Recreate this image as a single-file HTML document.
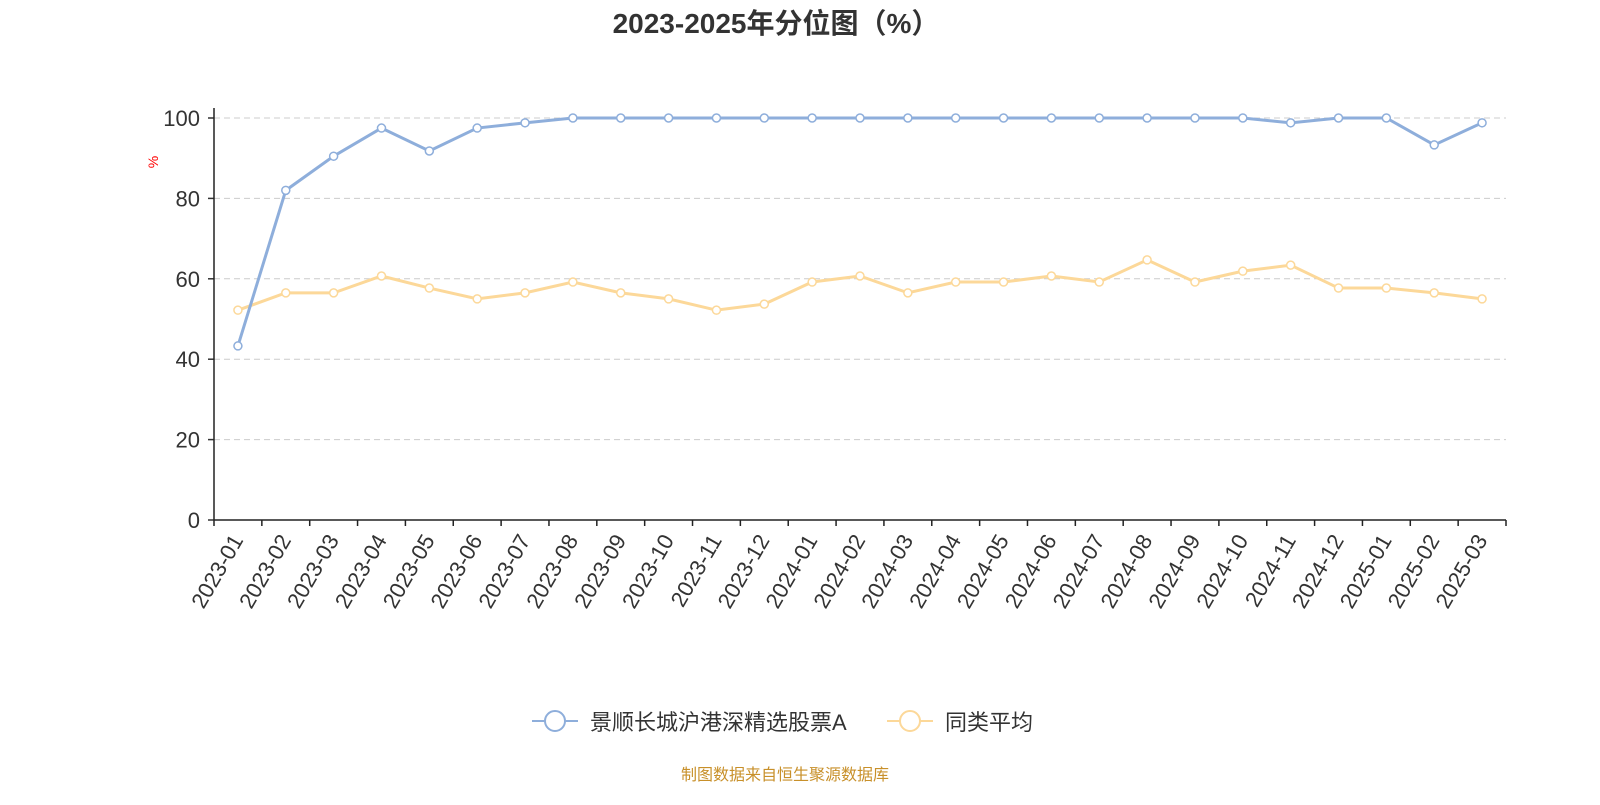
<!DOCTYPE html>
<html><head><meta charset="utf-8"><style>
body{margin:0;background:#fff;font-family:"Liberation Sans","Noto Sans CJK SC",sans-serif}
svg text{font-family:"Liberation Sans","Noto Sans CJK SC",sans-serif}
</style></head><body>
<svg id="chart" width="1600" height="800">
<text x="776" y="33" text-anchor="middle" font-size="28" font-weight="bold" fill="#333">2023-2025年分位图（%）</text>
<text x="158" y="162" font-size="14" fill="red" transform="rotate(-90 158 162)" text-anchor="middle">%</text>
<g id="grid"></g><g id="axes"></g><g id="series"></g>
<g>
<g>
<line x1="532" y1="721" x2="578" y2="721" stroke="#8eaedb" stroke-width="2"/>
<circle cx="555" cy="721" r="10" fill="#fff" stroke="#8eaedb" stroke-width="2"/>
<text x="590" y="730" font-size="22" fill="#333">景顺长城沪港深精选股票A</text></g>
<g>
<line x1="887" y1="721" x2="933" y2="721" stroke="#fcd899" stroke-width="2"/>
<circle cx="910" cy="721" r="10" fill="#fff" stroke="#fcd899" stroke-width="2"/>
<text x="945" y="730" font-size="22" fill="#333">同类平均</text></g>
</g>
<text x="785" y="780" text-anchor="middle" font-size="16" fill="#c8902a">制图数据来自恒生聚源数据库</text>
</svg>
<script>
const categories=["2023-01","2023-02","2023-03","2023-04","2023-05","2023-06","2023-07","2023-08","2023-09","2023-10","2023-11","2023-12","2024-01","2024-02","2024-03","2024-04","2024-05","2024-06","2024-07","2024-08","2024-09","2024-10","2024-11","2024-12","2025-01","2025-02","2025-03"];
const fundValues=[43.3,82,90.5,97.5,91.8,97.5,98.8,100,100,100,100,100,100,100,100,100,100,100,100,100,100,100,98.8,100,100,93.3,98.8];
const avgValues=[52.2,56.5,56.5,60.7,57.7,55,56.5,59.2,56.5,55,52.2,53.7,59.2,60.7,56.5,59.2,59.2,60.7,59.2,64.7,59.2,61.9,63.4,57.7,57.7,56.5,55];
const yTicks=[0,20,40,60,80,100];
const NS="http://www.w3.org/2000/svg";
const X0=214,X1=1506,Y0=520,Y1=118;
const bw=(X1-X0)/categories.length;
const xs=i=>X0+bw*(i+0.5);
const ys=v=>Y0-(v/100)*(Y0-Y1);
function mk(tag,attrs,parent){const e=document.createElementNS(NS,tag);for(const k in attrs)e.setAttribute(k,attrs[k]);parent.appendChild(e);return e;}
const grid=document.getElementById('grid'),axes=document.getElementById('axes'),ser=document.getElementById('series');
yTicks.forEach(t=>{
 if(t>0){const g=mk('line',{x1:X0,x2:X1,y1:ys(t),y2:ys(t),stroke:'#ccc','stroke-dasharray':'6,4'},grid);
 
 }
 const tk=mk('line',{x1:X0-6,x2:X0,y1:ys(t),y2:ys(t),stroke:'#333','stroke-width':1.5},axes);
 
 
 const l=mk('text',{x:X0-14,y:ys(t)+8,'text-anchor':'end','font-size':22,fill:'#333'},axes);
 l.textContent=t;
 
 
});
const ya=mk('line',{x1:X0,x2:X0,y1:Y1-10,y2:Y0,stroke:'#222','stroke-width':1.5},axes);


const xa=mk('line',{x1:X0,x2:X1,y1:Y0,y2:Y0,stroke:'#222','stroke-width':1.5},axes);


for(let i=0;i<=categories.length;i++){
 const tk=mk('line',{x1:X0+bw*i,x2:X0+bw*i,y1:Y0,y2:Y0+6,stroke:'#222','stroke-width':1.5},axes);
 
 
}
categories.forEach((c,i)=>{
 const x=xs(i),y=Y0+12;
 const l=mk('text',{x:x+6,y:y+8,'text-anchor':'end','font-size':22,fill:'#333',transform:`rotate(-60 ${x+6} ${y+8})`},axes);
 l.textContent=c;
 
 
});
function draw(vals,color,name){
 const p=mk('polyline',{points:vals.map((v,i)=>xs(i)+','+ys(v)).join(' '),fill:'none',stroke:color,'stroke-width':3},ser);
 
 
 vals.forEach((v,i)=>{
  const c=mk('circle',{cx:xs(i),cy:ys(v),r:4,fill:'#fff',stroke:color,'stroke-width':1.5},ser);
  
  
 });
}
draw(avgValues,'#fcd899','average');
draw(fundValues,'#8eaedb','fund');
</script>
</body></html>
